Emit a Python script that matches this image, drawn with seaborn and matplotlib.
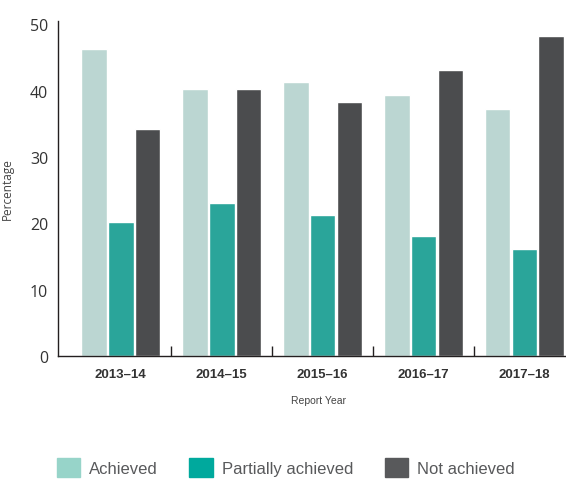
import pandas as pd
import numpy as np
import matplotlib
matplotlib.use('Agg')
import matplotlib.pyplot as plt
import matplotlib.patches as mpatches
import seaborn as sns

years = ['2013–14', '2014–15', '2015–16', '2016–17', '2017–18']
achieved = [46.3, 40.2, 41.3, 39.3, 37.2]
partially = [20.2, 23.1, 21.2, 18.1, 16.1]
not_achieved = [34.2, 40.2, 38.3, 43.2, 48.3]
series = ['Achieved', 'Partially achieved', 'Not achieved']

# ── Colors ────────────────────────────────────────────────────────────────────
BAR_COLORS = ['#BBD6D2', '#2AA59A', '#4B4C4E']
LEG_COLORS = ['#97D4C9', '#00A99D', '#58595B']
DARK = '#231F20'
GRAY = '#58595B'

df = pd.DataFrame({'Year': years, 'Achieved': achieved,
                   'Partially achieved': partially, 'Not achieved': not_achieved})
long = df.melt(id_vars='Year', var_name='Status', value_name='Pct')

sns.set_style('white')
plt.rcParams['font.family'] = ['Liberation Sans', 'DejaVu Sans']

fig = plt.figure(figsize=(5.66, 4.81), dpi=100)
ax = fig.add_axes([0.1025, 0.2578, 0.8955, 0.6962])

sns.barplot(data=long, x='Year', y='Pct', hue='Status', hue_order=series,
            palette=BAR_COLORS, width=0.8, gap=0.04, saturation=1,
            legend=False, ax=ax)

ax.set_xlim(-0.62, 4.4)
ax.set_ylim(0, 50.5)
ax.set_yticks([0, 10, 20, 30, 40, 50])
ax.tick_params(axis='y', length=0, labelsize=11.5, colors='#333333', pad=7)
for lbl in ax.get_yticklabels():
    lbl.set_family(['Open Sans', 'DejaVu Sans'])
ax.tick_params(axis='x', length=0, labelsize=9.5, colors='#333333', pad=9)
for lbl in ax.get_xticklabels():
    lbl.set_fontweight('bold')
ax.set_xticks([0.5, 1.5, 2.5, 3.5], minor=True)
ax.tick_params(axis='x', which='minor', bottom=True, direction='in',
               length=7, width=1, color=DARK)

ax.spines[['top', 'right']].set_visible(False)
ax.spines[['left', 'bottom']].set_color(DARK)
ax.spines[['left', 'bottom']].set_linewidth(1)

ax.set_xlabel('Report Year', fontsize=7.5, color='#444444')
ax.xaxis.set_label_coords(0.514, -0.115)
ax.set_ylabel('Percentage', fontsize=8.5, color='#444444')
ax.yaxis.set_label_coords(-0.088, 0.5)
ax.yaxis.label.set_family(['Open Sans', 'DejaVu Sans'])

handles = [mpatches.Patch(color=c, label=s) for c, s in zip(LEG_COLORS, series)]
fig.legend(handles=handles, loc='center', bbox_to_anchor=(0.505, 0.026),
           ncol=3, frameon=False, fontsize=12, labelcolor=GRAY,
           handlelength=1.4, handleheight=1.4, handletextpad=0.55,
           columnspacing=1.9)

plt.savefig('out.png', dpi=100)
